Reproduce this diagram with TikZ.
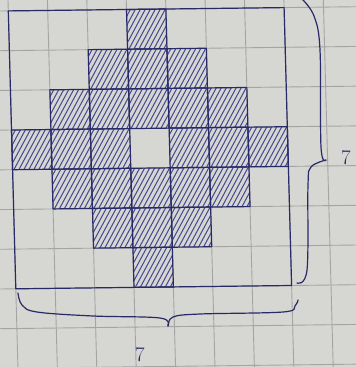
\documentclass[tikz,border=0pt]{standalone}
\definecolor{paperc}{HTML}{D6D6D2}
\definecolor{gridc}{HTML}{A4A4A2}
\definecolor{inkc}{HTML}{282A68}
\definecolor{hatchc}{HTML}{46488F}
\begin{document}
\begin{tikzpicture}[x=1pt,y=-1pt,
  ink/.style={draw=inkc,line width=1.2pt,line cap=round,line join=round},
  hatchline/.style={draw=hatchc,line width=1pt,line cap=round},
  papergrid/.style={draw=gridc,line width=0.9pt},
  lbl/.style={text=inkc,font=\huge,inner sep=0pt}]
\useasboundingbox (0,0) rectangle (356,367);
\fill[paperc] (0,0) rectangle (356,367);
\begin{scope}
\clip (0,0) rectangle (356,367);
\begin{scope}[cm={1,0.012,-0.027,1,(0,0)}]
  % squared paper
  \foreach \k in {-1,...,9} \draw[papergrid] ({8+39.4*\k},-30) -- ({8+39.4*\k},400);
  \foreach \k in {-1,...,10} \draw[papergrid] (-30,{11+39.7*\k}) -- (400,{11+39.7*\k});
  % hatched cells
  \foreach \c/\r in {3/0, 2/1,3/1,4/1, 1/2,2/2,3/2,4/2,5/2,
                     0/3,1/3,2/3,4/3,5/3,6/3, 1/4,2/4,3/4,4/4,5/4,
                     2/5,3/5,4/5, 3/6} {
    \begin{scope}
      \clip ({8+39.4*\c},{11+39.7*\r}) rectangle +(39.4,39.7);
      \foreach \h in {-30,-25,...,45}
        \draw[hatchline] ({8+39.4*\c+\h},{11+39.7*\r+42}) -- ++(25,-44);
    \end{scope}
    \draw[ink] ({8+39.4*\c},{11+39.7*\r}) rectangle +(39.4,39.7);
  }
  % outer square
  \draw[ink] (8,11) rectangle (283.8,288.9);
\end{scope}
\end{scope}
% braces
\draw[ink] plot[smooth,tension=0.6] coordinates {(302,-1) (314,16) (320,50) (321,147) (326,160)};
\draw[ink] plot[smooth,tension=0.6] coordinates {(326,160) (311,167) (308,185) (307,270) (297,283)};
\draw[ink] plot[smooth,tension=0.6] coordinates {(18,293) (22,305) (37,312) (93,316) (160,318) (168,326)};
\draw[ink] plot[smooth,tension=0.6] coordinates {(168,326) (173,317) (200,314) (283,312) (295,306) (298,300)};
\node[lbl] (h) at (346,158) {7};
\node[lbl] (w) at (140,355) {7};
\end{tikzpicture}
\end{document}
